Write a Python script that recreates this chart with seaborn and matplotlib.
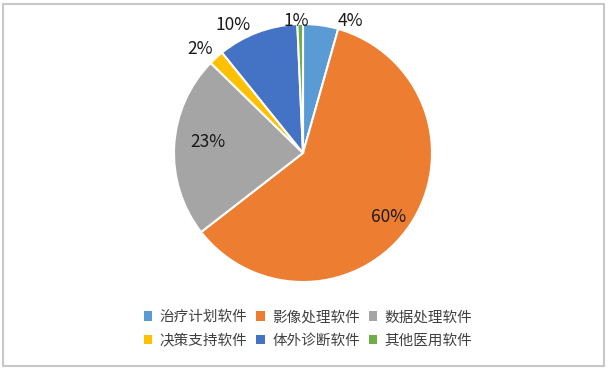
import matplotlib
matplotlib.use("Agg")
import numpy as np
import matplotlib.pyplot as plt
import matplotlib.patches as patches
import seaborn as sns

# data
categories = ['治疗计划软件', '影像处理软件', '数据处理软件', '决策支持软件', '体外诊断软件', '其他医用软件']
shares = [4.4, 60.1, 22.8, 1.9, 10.1, 0.7]
colors = ['#5B9BD5', '#ED7D31', '#A5A5A5', '#FFC000', '#4472C4', '#70AD47']

# label placement (pie radius = 1), Excel "best fit" style
label_pos = [(0.37, 1.02), (-0.054, 1.02), (-0.54, 0.99), (-0.80, 0.81), (-0.74, 0.085), (0.66, -0.50)]
label_idx = [0, 5, 4, 3, 2, 1]

sns.set_theme(style='white')
plt.rcParams['font.family'] = ['Noto Sans CJK SC', 'DejaVu Sans']

W, H = 609, 370
fig = plt.figure(figsize=(W / 100, H / 100), dpi=100)
fig.patch.set_facecolor('white')

# chart border
fig.add_artist(patches.Rectangle((3 / W, 4 / H), 601 / W, 362 / H, transform=fig.transFigure,
                                 fill=False, edgecolor='#C8C8C8', linewidth=1.5))

cx, cy, r = 303, 153, 129
ax = fig.add_axes([(cx - r) / W, (H - cy - r) / H, 2 * r / W, 2 * r / H])
wedges, _ = ax.pie(shares, colors=colors, startangle=90, counterclock=False, radius=1,
                   wedgeprops=dict(edgecolor='white', linewidth=1.5))
ax.set_xlim(-1, 1)
ax.set_ylim(-1, 1)
ax.set_aspect('equal')
ax.axis('off')

total = sum(shares)
for i, (x, y) in zip(label_idx, label_pos):
    ax.text(x, y, f'{shares[i] / total * 100:.0f}%', ha='center', va='center',
            fontsize=12.5, color='#1a1a1a')

order = [0, 3, 1, 4, 2, 5]
handles = [patches.Patch(facecolor=colors[i], edgecolor='none') for i in order]
labels = [categories[i] for i in order]
fig.legend(handles, labels, ncol=3, loc='center', bbox_to_anchor=(308 / W, 1 - 329 / H),
           frameon=False, fontsize=10.5, handlelength=0.6, handleheight=0.6,
           handletextpad=0.5, columnspacing=0.6, labelspacing=0.65, labelcolor='#404040')

fig.savefig('out.png', dpi=100)
